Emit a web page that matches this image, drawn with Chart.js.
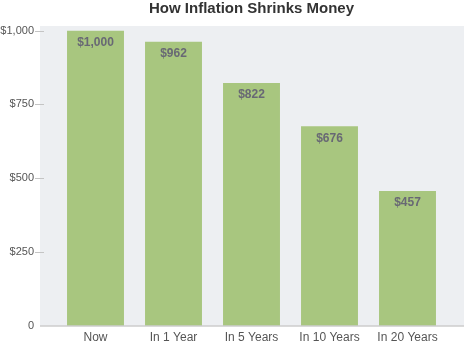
<!DOCTYPE html>
<html>
<head>
<meta charset="utf-8">
<script src="https://cdn.jsdelivr.net/npm/chart.js@4/dist/chart.umd.min.js"></script>
<style>
html,body{margin:0;padding:0;background:#fff;}
#wrap{width:465px;height:355px;position:relative;}
</style>
</head>
<body>
<div id="wrap"><canvas id="c" width="465" height="355"></canvas></div>
<script>
const categories = ["Now", "In 1 Year", "In 5 Years", "In 10 Years", "In 20 Years"];
const values = [1000, 962, 822, 676, 457];
const valueLabels = ["$1,000", "$962", "$822", "$676", "$457"];
const yTicks = [0, 250, 500, 750, 1000];
const yTickLabels = ["0", "$250", "$500", "$750", "$1,000"];

const FONT = "'Liberation Sans', Arial, Helvetica, sans-serif";

const bgPlugin = {
  id: 'bgPlugin',
  beforeDatasetsDraw(chart) {
    const {ctx, chartArea, scales} = chart;
    const y = scales.y;
    const left = chartArea.left - 16.5;
    const right = chartArea.right + 17.5;
    const top = y.getPixelForValue(1000) - 4.5;
    const bottom = chartArea.bottom;
    ctx.save();
    ctx.fillStyle = '#edeff2';
    ctx.fillRect(left, top, right - left, bottom - top);
    ctx.strokeStyle = '#c4c4c4';
    ctx.lineWidth = 1;
    yTicks.forEach(v => {
      if (v === 0) return;
      const py = Math.round(y.getPixelForValue(v)) + 0.5;
      ctx.beginPath();
      ctx.moveTo(left - 5, py);
      ctx.lineTo(left + 4, py);
      ctx.stroke();
    });
    ctx.restore();
  },
  afterDatasetsDraw(chart) {
    const {ctx, chartArea} = chart;
    const left = chartArea.left - 16.5;
    const right = chartArea.right + 17.5;
    ctx.save();
    ctx.strokeStyle = '#cdcdcd';
    ctx.lineWidth = 1.5;
    ctx.beginPath();
    ctx.moveTo(left, chartArea.bottom);
    ctx.lineTo(right, chartArea.bottom);
    ctx.stroke();
    const meta = chart.getDatasetMeta(0);
    ctx.fillStyle = '#686874';
    ctx.font = "bold 12px " + FONT;
    ctx.textAlign = 'center';
    ctx.textBaseline = 'middle';
    meta.data.forEach((bar, i) => {
      ctx.fillText(valueLabels[i], bar.x, bar.y + 12);
    });
    ctx.restore();
  }
};

new Chart(document.getElementById('c'), {
  type: 'bar',
  data: {
    labels: categories,
    datasets: [{
      data: values,
      backgroundColor: '#a8c67f',
      borderWidth: 0,
      barPercentage: 0.73,
      categoryPercentage: 1.0
    }]
  },
  options: {
    responsive: false,
    animation: false,
    devicePixelRatio: 1,
    layout: { padding: { left: 0, right: 18.5, top: 0, bottom: 1 } },
    plugins: {
      legend: { display: false },
      tooltip: { enabled: false },
      title: {
        display: true,
        text: 'How Inflation Shrinks Money',
        fullSize: false,
        color: '#333333',
        font: { family: FONT, size: 15, weight: 'bold' },
        padding: { top: 0, bottom: 12.5 }
      }
    },
    scales: {
      x: {
        grid: { display: false, drawTicks: false },
        border: { display: false },
        ticks: {
          color: '#555555',
          font: { family: FONT, size: 12 },
          padding: 5,
          maxRotation: 0
        }
      },
      y: {
        min: 0,
        max: 1000,
        grid: { display: false, drawTicks: false },
        border: { display: false },
        afterBuildTicks(scale) {
          scale.ticks = yTicks.map(v => ({ value: v }));
        },
        afterFit(scale) { scale.width = 56.5; },
        ticks: {
          color: '#555555',
          font: { family: FONT, size: 11 },
          padding: 22.5,
          callback(value) {
            const i = yTicks.indexOf(value);
            return i >= 0 ? yTickLabels[i] : '';
          }
        }
      }
    }
  },
  plugins: [bgPlugin]
});
</script>
</body>
</html>
